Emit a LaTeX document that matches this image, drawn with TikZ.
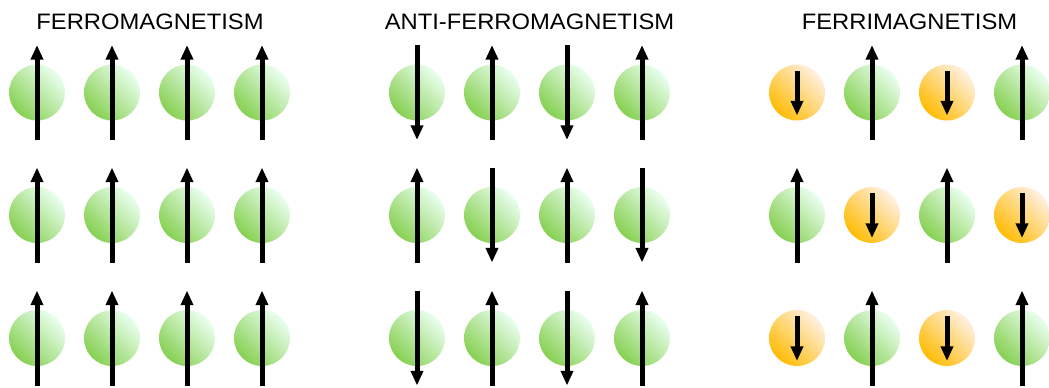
\documentclass[tikz,border=0pt]{standalone}
\usepackage{fontspec}
\setmainfont{Liberation Sans}
\usetikzlibrary{arrows.meta,calc}
\definecolor{balldark}{RGB}{135,208,82}
\definecolor{ballmid}{RGB}{198,240,184}
\definecolor{balllight}{RGB}{234,255,240}
\definecolor{orbdark}{RGB}{255,188,5}
\definecolor{orbmid}{RGB}{255,214,110}
\definecolor{orblight}{RGB}{255,240,226}
\begin{document}
\begin{tikzpicture}[x=0.75pt,y=0.75pt,yscale=-1,xscale=1,
    greenball/.style={circle,minimum size=42pt,inner sep=0pt,left color=balldark,middle color=ballmid,right color=balllight,shading angle=135},
    orangeball/.style={circle,minimum size=42pt,inner sep=0pt,left color=orbdark,middle color=orbmid,right color=orblight,shading angle=135},
    spin/.style={line width=3.75pt,-{Triangle[width=9pt,length=11pt]}},
    heading/.style={font=\fontsize{16.75pt}{19pt}\selectfont,inner sep=0pt}]
\useasboundingbox (0,0) rectangle (1049,387);
% headings
\node[heading] (ferrotitle) at (150,22) {\scalebox{1.065}[1]{FERROMAGNETISM}};
\node[heading] (antititle) at (529.5,22) {\scalebox{1.065}[1]{ANTI-FERROMAGNETISM}};
\node[heading] (ferrititle) at (909.5,22) {\scalebox{1.065}[1]{FERRIMAGNETISM}};
% ferromagnetism: all spins up
\foreach \x [count=\i] in {37,112,187,262}
  \foreach \y [count=\j] in {92.5,215,338} {
    \node[greenball] (f\j\i) at (\x,\y) {};
    \draw[spin] ($(f\j\i)+(0,47.5)$) -- ($(f\j\i)+(0,-47.5)$);
  }
% anti-ferromagnetism: alternating spins
\foreach \x [count=\i] in {417,492,567,642}
  \foreach \y [count=\j] in {92.5,215,338} {
    \node[greenball] (a\j\i) at (\x,\y) {};
    \ifodd\numexpr\i+\j\relax
      \draw[spin] ($(a\j\i)+(0,47.5)$) -- ($(a\j\i)+(0,-47.5)$);
    \else
      \draw[spin] ($(a\j\i)+(0,-47.5)$) -- ($(a\j\i)+(0,47.5)$);
    \fi
  }
% ferrimagnetism: small spins down on orange sites
\foreach \x [count=\i] in {797,872,947,1022}
  \foreach \y [count=\j] in {92.5,215,338} {
    \ifodd\numexpr\i+\j\relax
      \node[greenball] (m\j\i) at (\x,\y) {};
      \draw[spin] ($(m\j\i)+(0,47.5)$) -- ($(m\j\i)+(0,-47.5)$);
    \else
      \node[orangeball] (m\j\i) at (\x,\y) {};
      \draw[spin] ($(m\j\i)+(0,-22)$) -- ($(m\j\i)+(0,23)$);
    \fi
  }
\end{tikzpicture}
\end{document}
